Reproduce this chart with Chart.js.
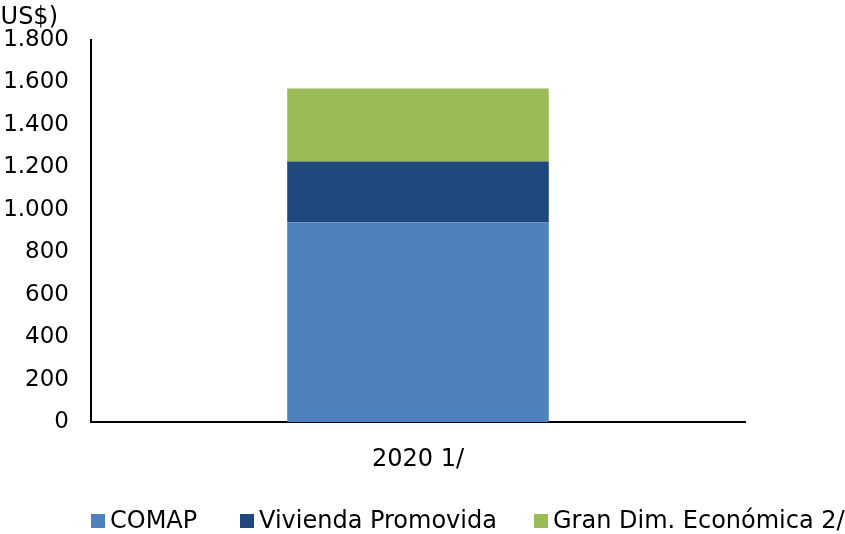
<!DOCTYPE html>
<html>
<head>
<meta charset="utf-8">
<style>
  html, body { margin: 0; padding: 0; background: #ffffff; }
  #wrap { width: 845px; height: 534px; position: relative; }
</style>
<script src="https://cdn.jsdelivr.net/npm/chart.js@4/dist/chart.umd.min.js"></script>
</head>
<body>
<div id="wrap"><canvas id="c" width="845" height="534"></canvas></div>
<script>
// Categories and series (millones de US$)
const categories = ['2020 1/'];
const comap = [940];
const viviendaPromovida = [288];
const granDimEconomica = [344];
const seriesNames = ['COMAP', 'Vivienda Promovida', 'Gran Dim. Económica 2/'];
const yTicks = [0, 200, 400, 600, 800, 1000, 1200, 1400, 1600, 1800];
const unitLabel = 'US$)';

const colors = ['#4F81BD', '#1F497D', '#9BBB59'];
const FONT = '"DejaVu Sans", "Noto Sans", sans-serif';

function fmtThousands(v) {
  return String(v).replace(/\B(?=(\d{3})+(?!\d))/g, '.');
}

// Unit label at the top-left and the legend row under the axis
const decorations = {
  id: 'decorations',
  afterDraw(chart) {
    const ctx = chart.ctx;
    ctx.save();
    ctx.fillStyle = '#000';
    ctx.font = '24px ' + FONT;
    ctx.textAlign = 'right';
    ctx.textBaseline = 'alphabetic';
    ctx.fillText(unitLabel, 58, 24);

    const startX = [91, 240, 534];
    const boxSize = 14;
    const boxTop = 514;
    ctx.font = '24px ' + FONT;
    ctx.textAlign = 'left';
    chart.data.datasets.forEach((ds, i) => {
      ctx.fillStyle = ds.backgroundColor;
      ctx.fillRect(startX[i], boxTop, boxSize, boxSize);
      ctx.fillStyle = '#000';
      ctx.fillText(ds.label, startX[i] + boxSize + 5, boxTop + boxSize);
    });
    ctx.restore();
  }
};

new Chart(document.getElementById('c'), {
  type: 'bar',
  data: {
    labels: categories,
    datasets: [
      { label: seriesNames[0], data: comap, backgroundColor: colors[0] },
      { label: seriesNames[1], data: viviendaPromovida, backgroundColor: colors[1] },
      { label: seriesNames[2], data: granDimEconomica, backgroundColor: colors[2] }
    ]
  },
  options: {
    responsive: false,
    animation: false,
    devicePixelRatio: 1,
    layout: { padding: { top: 40, right: 100, left: 0, bottom: 0 } },
    datasets: { bar: { barPercentage: 0.4, categoryPercentage: 1.0 } },
    plugins: {
      legend: { display: false },
      tooltip: { enabled: false },
      title: { display: false }
    },
    scales: {
      x: {
        stacked: true,
        grid: { display: false, drawTicks: false },
        border: { display: true, color: '#000', width: 2 },
        ticks: { color: '#000', font: { family: FONT, size: 24 }, padding: 23 },
        afterFit(scale) { scale.height = 112; }
      },
      y: {
        stacked: true,
        min: 0,
        max: 1800,
        afterBuildTicks(scale) { scale.ticks = yTicks.map(v => ({ value: v })); },
        grid: { display: false, drawTicks: false },
        border: { display: true, color: '#000', width: 2 },
        ticks: {
          color: '#000',
          font: { family: FONT, size: 23 },
          padding: 22,
          callback: (v) => fmtThousands(v)
        },
        afterFit(scale) { scale.width = 91; }
      }
    }
  },
  plugins: [decorations]
});
</script>
</body>
</html>
